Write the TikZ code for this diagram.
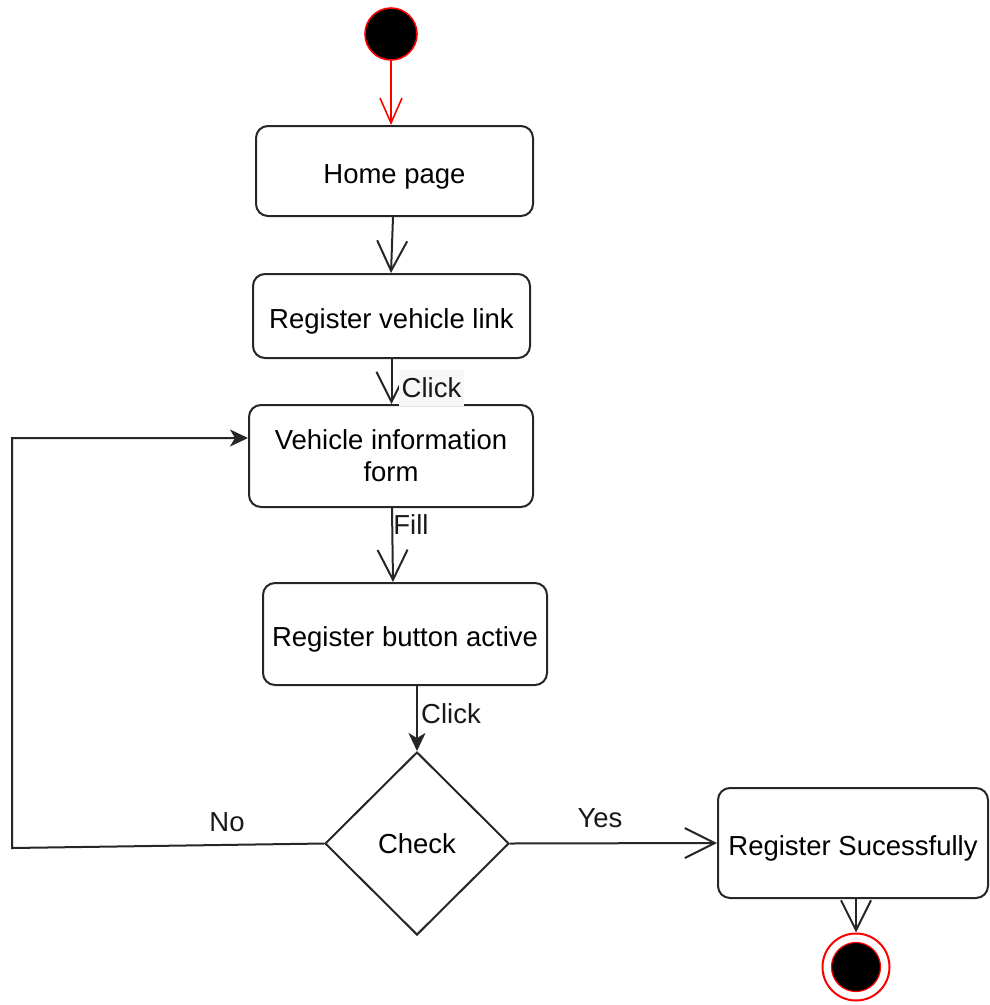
\documentclass[tikz,border=0pt]{standalone}
\usepackage{fontspec}
\setmainfont{Liberation Sans}
\usetikzlibrary{arrows.meta,shapes.geometric}
\begin{document}
\begin{tikzpicture}[x=1pt,y=-1pt,
  font=\fontsize{27.5}{32}\selectfont,
  every node/.style={inner sep=0pt},
  activity/.style={draw=black!85,line width=2pt,rounded corners=12pt,align=center},
  oneline/.style={text height=24pt,text depth=0pt},
  decision/.style={draw=black!85,line width=2pt,diamond,minimum width=184pt,minimum height=183pt},
  flow/.style={draw=black!85,line width=2pt,-{Straight Barb[length=30pt,width=30pt,line width=2pt]}},
  solidflow/.style={draw=black!85,line width=2pt,-{Stealth[length=18pt,width=17pt,inset=5pt]}},
  lbl/.style={text=black!90},
]
\useasboundingbox (0,0) rectangle (989,1005);

% initial and final states
\node[circle,fill=black,draw=red,line width=1.6pt,minimum size=52pt] (start) at (391,34) {};
\node[circle,draw=red,line width=2pt,minimum size=67pt] (endring) at (856,967) {};
\node[circle,fill=black,draw=red,line width=1.2pt,minimum size=49pt] (enddot) at (856,967) {};

% activities
\node[activity,oneline,minimum width=277pt,minimum height=90pt] (home) at (394.5,171) {Home page};
\node[activity,oneline,minimum width=277pt,minimum height=84pt] (link) at (391.5,316) {Register vehicle link};
\node[activity,minimum width=284pt,minimum height=102pt] (form) at (391,456) {Vehicle information\\form};
\node[activity,oneline,minimum width=284pt,minimum height=102pt] (button) at (405,634) {Register button active};
\node[activity,oneline,minimum width=270pt,minimum height=110pt] (success) at (853,843) {Register Sucessfully};
\node[decision] (check) at (417,843.5) {Check};

% flows
\draw[red,line width=1.6pt,-{Straight Barb[length=25pt,width=22pt,line width=1.6pt]}]
  (start.south) -- (home.north -| start.south);
\draw[flow] ([xshift=-1.5pt]home.south) -- ([xshift=-0.5pt]link.north);
\draw[flow] (link.south) -- (form.north -| link.south);
\draw[flow] ([xshift=1pt]form.south) -- (button.north -| 393,0);
\draw[solidflow] (button.south -| check.north) -- (check.north);
\draw[flow] (check.east) -- (success.west);
\draw[flow] (success.south -| enddot.north) -- (endring.north);
\coordinate (loopA) at (12,848);
\coordinate (loopB) at (12,438);
\draw[solidflow] (check.west) -- (loopA) -- (loopB) -- (loopB -| form.west);

% flow labels
\node[lbl,fill=gray!6,inner xsep=3pt,inner ysep=8pt] (click1) at (431.5,388) {Click};
\node[lbl] (fill) at (411,525) {Fill};
\node[lbl] (click2) at (451,714) {Click};
\node[lbl] (yes) at (600,818) {Yes};
\node[lbl] (no) at (227,822) {No};
\end{tikzpicture}
\end{document}
